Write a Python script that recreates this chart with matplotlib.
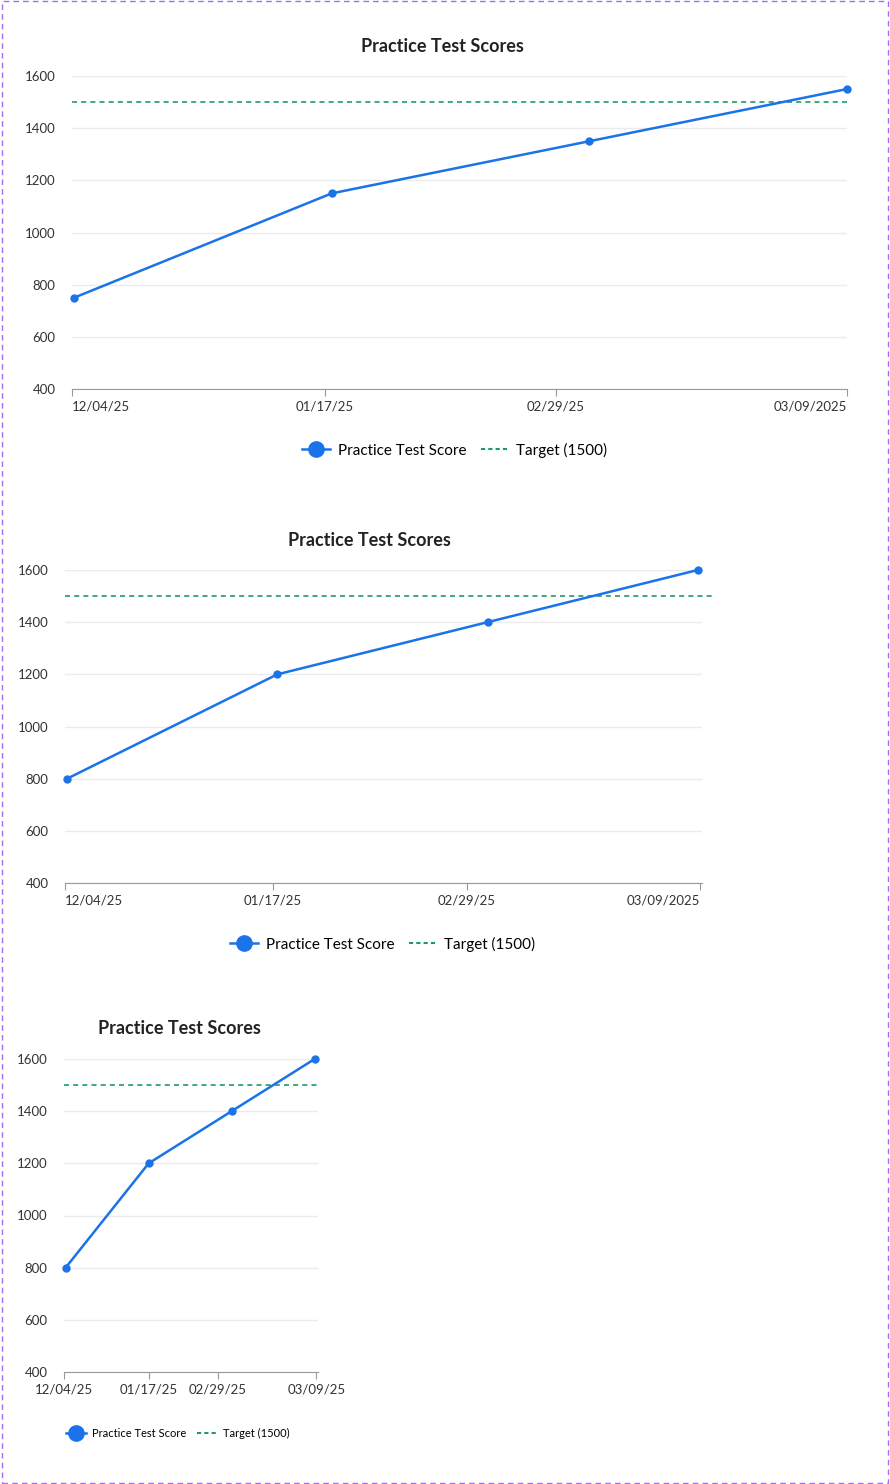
import matplotlib.pyplot as plt
from matplotlib.lines import Line2D
from matplotlib.patches import Rectangle

dates = ['12/04/25', '01/17/25', '02/29/25', '03/09/2025']
dates_small = ['12/04/25', '01/17/25', '02/29/25', '03/09/25']
scores_top = [750, 1150, 1350, 1550]
scores = [800, 1200, 1400, 1600]
target = 1500
yticks = [400, 600, 800, 1000, 1200, 1400, 1600]

BLUE = '#1a73e8'
GREEN = '#1e9a6a'
GRID = '#ebebeb'
TEXT = '#333333'

plt.rcParams['font.family'] = ['Lato', 'DejaVu Sans']

fig = plt.figure(figsize=(8.9, 14.84), dpi=100)
fig.patches.append(Rectangle((0.002, 0.001), 0.996, 0.998, transform=fig.transFigure,
                             fill=False, edgecolor='#a66cf0', linestyle=(0, (4, 3)), lw=1))

W, H = 890, 1484

# (values, labels, left px, bottom px, width px, tick positions, xlim, target end, title x, title y, legend x, legend y, font size)
panels = [
    (scores_top, dates, 72, 389, 775, [-0.008, 0.974, 1.87, 3.0], (-0.008, 3.0), 3.0, 442, 46, 455, 450, 11),
    (scores, dates, 65, 883, 637, [-0.01, 0.98, 1.9, 3.01], (-0.01, 3.02), 3.08, 369, 540, 383, 944, 11),
    (scores, dates_small, 64, 1372, 254, [-0.02, 1.0, 1.83, 3.02], (-0.02, 3.04), 3.04, 179, 1029, 178, 1433, 8),
]

for vals, labels, lpx, bpx, wpx, tpos, xl, tend, tx, ty, lx, ly, fs in panels:
    ax = fig.add_axes([lpx / W, 1 - bpx / H, wpx / W, 313 / H])
    ax.set_ylim(400, 1600)
    ax.set_xlim(*xl)
    ax.set_yticks(yticks)
    ax.grid(axis='y', color=GRID, lw=1)
    ax.set_axisbelow(True)
    for s in ['left', 'right', 'top']:
        ax.spines[s].set_visible(False)
    ax.spines['bottom'].set_color('#999999')
    ax.tick_params(axis='y', length=0, labelsize=9.5, labelcolor=TEXT, pad=12)
    ax.set_xticks(tpos)
    ax.set_xticklabels(labels)
    ax.tick_params(axis='x', length=5, color='#999999', labelsize=9.5, labelcolor=TEXT)
    if wpx > 300:
        xt = ax.get_xticklabels()
        xt[0].set_ha('left')
        xt[-1].set_ha('right')
    ax.plot(range(len(vals)), vals, color=BLUE, lw=1.8, marker='o', ms=5, clip_on=False, zorder=3)
    ax.plot([xl[0], tend], [target, target], color=GREEN, lw=1.2, ls=(0, (3, 2.5)), clip_on=False)
    fig.text(tx / W, 1 - ty / H, 'Practice Test Scores', ha='center', va='center',
             fontsize=13, fontweight='bold', color='#222222')
    handles = [Line2D([], [], color=BLUE, lw=1.8, marker='o', ms=11),
               Line2D([], [], color=GREEN, lw=1.5, ls=(0, (2, 1.5)))]
    fig.legend(handles, ['Practice Test Score', 'Target (1500)'], loc='center',
               bbox_to_anchor=(lx / W, 1 - ly / H), ncol=2, frameon=False,
               fontsize=fs, handlelength=1.8, columnspacing=1.0, handletextpad=0.5)

fig.savefig('out.png', dpi=100)
